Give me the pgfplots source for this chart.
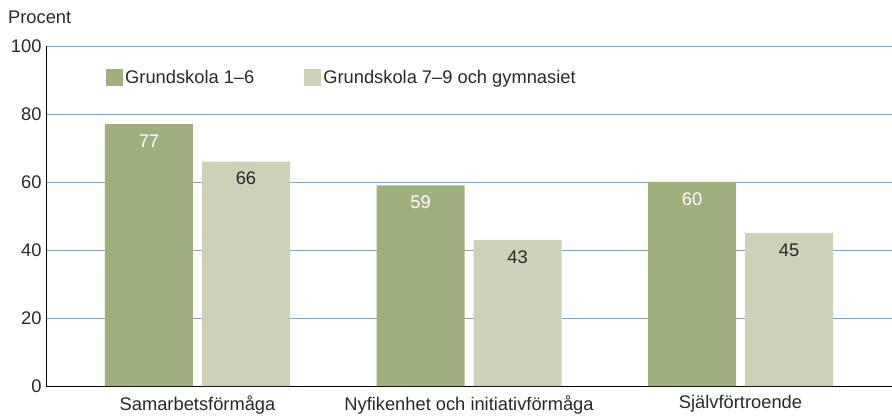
\documentclass[border=0pt]{standalone}
\usepackage{pgfplots}
\pgfplotsset{compat=1.18}
\usepackage{fontspec}
\setmainfont{Liberation Sans}
\definecolor{gA}{RGB}{160,176,124}
\definecolor{gB}{RGB}{205,209,181}
\definecolor{gridb}{RGB}{110,165,210}
\definecolor{txt}{RGB}{40,40,40}
\newcommand{\fs}{\fontsize{18.3bp}{21bp}\selectfont}
\begin{document}
\begin{tikzpicture}
\path[use as bounding box] (-46bp,-32bp) rectangle (846bp,386bp);
\begin{axis}[
  at={(0,0)}, anchor=south west,
  scale only axis, width=846bp, height=340bp,
  xmin=-0.558, xmax=2.558, ymin=0, ymax=100,
  ybar=9bp, bar width=88bp,
  axis x line*=bottom, axis y line*=left,
  axis line style={black, line width=0.8pt},
  x axis line style={-}, y axis line style={-},
  ymajorgrids, grid style={gridb, line width=0.8pt},
  ytick={0,20,...,100}, xtick={0,1,2},
  xticklabels={Samarbetsförmåga, Nyfikenhet och initiativförmåga, Självförtroende},
  major tick length=0pt,
  tick label style={font=\fs, text=txt},
  /pgf/number format/assume math mode=true,
  yticklabel style={xshift=-1bp},
  xticklabel style={yshift=-6bp},
  legend style={at={(rel axis cs:0.0709,0.906)}, anchor=west, draw=none, fill=none,
    font=\fs, text=txt, legend columns=2,
    /tikz/every even column/.append style={column sep=48bp}, inner sep=0pt},
  legend image code/.code={\fill[#1] (0bp,-8.5bp) rectangle (17bp,8.5bp);},
  nodes near coords,
  every node near coord/.append style={font=\fs, anchor=north, yshift=-7bp},
]
\addplot[fill=gA, draw=none, every node near coord/.append style={text=white}] coordinates {(0,77) (1,59) (2,60)};
\addplot[fill=gB, draw=none, every node near coord/.append style={text=txt}] coordinates {(0,66) (1,43) (2,45)};
\legend{Grundskola 1–6, Grundskola 7–9 och gymnasiet}
\end{axis}
\node[anchor=west, inner sep=0pt, text=txt, font=\fs] at (-38bp,369bp) {Procent};
\end{tikzpicture}
\end{document}
